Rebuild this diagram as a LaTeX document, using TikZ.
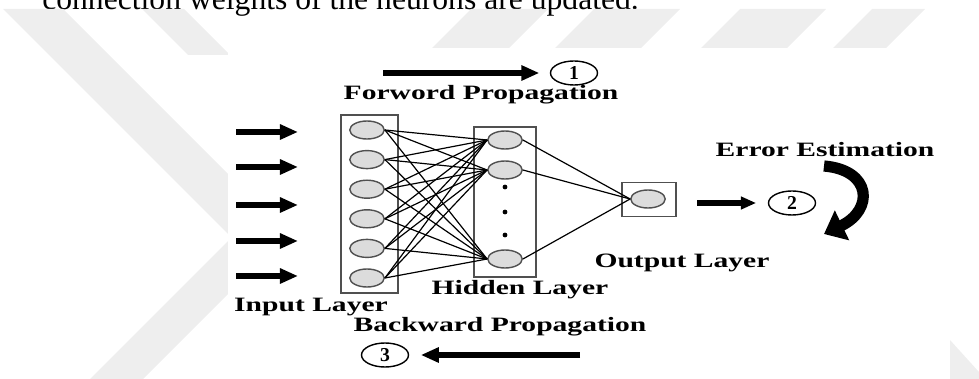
\documentclass[tikz,border=0pt]{standalone}
\usepackage{fontspec}
\setmainfont{Liberation Serif}
\usetikzlibrary{arrows.meta, positioning, shapes.geometric}
\definecolor{wmgray}{HTML}{EEEEEE}
\definecolor{edgegray}{HTML}{505050}
\definecolor{cellfill}{HTML}{DCDCDC}
\newcommand{\wide}[1]{\scalebox{1.45}[1]{#1}}

\begin{document}
\begin{tikzpicture}[
    x=0.025cm, y=-0.025cm,
    neuron/.style={ellipse, draw=edgegray, fill=cellfill, line width=1pt, minimum width=0.86cm, minimum height=0.45cm, inner sep=0pt},
    layer/.style={rectangle, draw=edgegray, line width=1pt, inner sep=0pt},
    dot/.style={circle, fill=black, minimum size=0.12cm, inner sep=0pt},
    stepnum/.style={ellipse, draw, line width=1pt, minimum width=1.175cm, minimum height=0.6cm, inner sep=0pt, font=\bfseries\fontsize{14}{14}\selectfont},
    lbl/.style={font=\bfseries\fontsize{14.5}{16}\selectfont, inner sep=0pt},
    link/.style={line width=0.85pt},
    fat/.style={line width=0.17cm, -{Triangle[length=0.45cm, width=0.36cm]}},
    slim/.style={line width=0.13cm, -{Triangle[length=0.38cm, width=0.3cm]}},
    curl/.style={line width=0.28cm, -{Triangle[length=0.5cm, width=0.8cm]}},
    stripe/.style={fill=wmgray, draw=none}
  ]
  \useasboundingbox (0,0) rectangle (979,379);

  % page text and watermark
  \node[anchor=base west, inner sep=0pt, font=\fontsize{22.5}{24}\selectfont] (caption) at (42,10) {connection weights of the neurons are updated.};
  \fill[stripe] (3,9) -- (63,9) -- (300,246) -- (240,246) -- cycle;
  \fill[stripe] (90,379) -- (143,379) -- (300,222) -- (247,222) -- cycle;
  \fill[stripe] (142,9) -- (184,9) -- (230,55) -- (188,55) -- cycle;
  \foreach \a/\b in {471/548, 594/680, 740/826, 872/925}
    \fill[stripe] (\a,9) -- (\b,9) -- (\b-46,55) -- (\a-46,55) -- cycle;
  \fill[stripe] (950,340) -- (979,372) -- (979,379) -- (950,379) -- cycle;
  \fill[white] (228,48) rectangle (950,376);

  % layers
  \foreach \yy [count=\i] in {130,159.6,189.2,218.8,248.4,278}
    \node[neuron] (in\i) at (367,\yy) {};
  \node[layer, minimum width=1.425cm, minimum height=4.45cm] (inbox) at (369.5,204) {};

  \foreach \yy [count=\i] in {140,170,259}
    \node[neuron] (hid\i) at (505,\yy) {};
  \foreach \yy [count=\k] in {187,212,235}
    \node[dot] (dot\k) at (505,\yy) {};
  \node[layer, minimum width=1.55cm, minimum height=3.75cm] (hidbox) at (505,202) {};

  \node[neuron] (out) at (648,199) {};
  \node[layer, minimum width=1.35cm, minimum height=0.85cm] (outbox) at (649,199.5) {};

  % weights
  \foreach \i in {1,...,6}
    \foreach \j in {1,2,3}
      \draw[link] (in\i.east) -- (hid\j.west);
  \foreach \j in {1,2,3}
    \draw[link] (hid\j.east) -- (out.west);

  % inputs
  \foreach \yy [count=\k] in {132,167,205,241,276} {
    \coordinate (src\k) at (236,\yy);
    \coordinate (dst\k) at (298,\yy);
    \draw[fat] (src\k) -- (dst\k);
  }

  % steps
  \node[stepnum] (n1) at (574,73) {1};
  \coordinate (fwdtail) at (383,73);
  \draw[fat, shorten >=0.26cm] (fwdtail) -- (n1);
  \node[lbl] (fwdlbl) at (481,95) {\wide{Forword Propagation}};

  \node[stepnum] (n2) at (792,203) {2};
  \coordinate (errtail) at (697,203);
  \draw[slim, shorten >=0.29cm] (errtail) -- (n2);

  \node[stepnum] (n3) at (385,355) {3};
  \coordinate (backtail) at (580,355);
  \draw[fat, shorten >=0.29cm] (backtail) -- (n3);
  \node[lbl] (backlbl) at (500,327) {\wide{Backward Propagation}};

  \node[lbl] (errlbl) at (825,150) {\wide{Error Estimation}};
  \coordinate (curltop) at (824,166);
  \coordinate (curlend) at (824,234);
  \draw[curl] (curltop) .. controls (872,170) and (874,210) .. (curlend);

  % layer names
  \node[lbl] (inlbl) at (311,307) {\wide{Input Layer}};
  \node[lbl] (hidlbl) at (520,290) {\wide{Hidden Layer}};
  \node[lbl] (outlbl) at (682,263) {\wide{Output Layer}};
\end{tikzpicture}
\end{document}
